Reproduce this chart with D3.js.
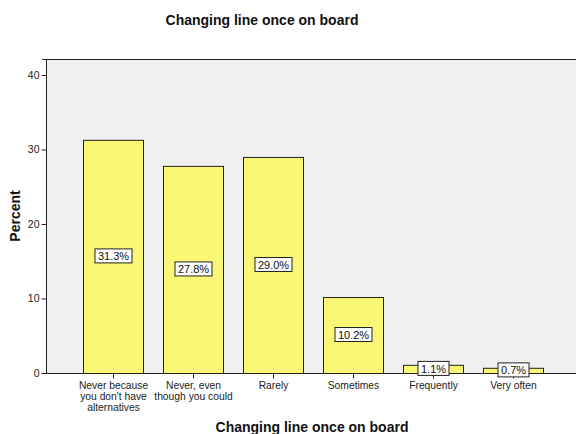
<!DOCTYPE html>
<html><head><meta charset="utf-8">
<script src="https://cdn.jsdelivr.net/npm/d3@7"></script>
<style>body{margin:0;background:#fff}svg{display:block;font-family:"Liberation Sans",Arial,sans-serif}</style>
</head><body><svg id="c" width="576" height="434"></svg>
<script>
const categories = [
  ["Never because","you don't have","alternatives"],
  ["Never, even","though you could"],
  ["Rarely"],
  ["Sometimes"],
  ["Frequently"],
  ["Very often"]
];
const values = [31.3, 27.8, 29.0, 10.2, 1.1, 0.7];
const yTicks = [0, 10, 20, 30, 40];
const title = "Changing line once on board";
const xTitle = "Changing line once on board";
const yTitle = "Percent";

const svg = d3.select("#c");
const L = 46, R = 576, T = 59, B = 373;
const x = d3.scaleBand().domain(d3.range(values.length)).range([73, 553]).paddingInner(0.25).paddingOuter(0.125);
const y = d3.scaleLinear().domain([0, 40]).range([B, 75]);

svg.append("rect").attr("x", L).attr("y", T).attr("width", R - L).attr("height", B - T).attr("fill", "#f0f0f0");
svg.append("line").attr("x1", 42).attr("x2", R).attr("y1", T + 0.5).attr("y2", T + 0.5).attr("stroke", "#222");

svg.append("g").selectAll("rect").data(values).join("rect")
  .attr("x", (d, i) => x(i) + 0.5).attr("y", d => y(d) + 0.5)
  .attr("width", x.bandwidth()).attr("height", d => B - y(d))
  .attr("fill", "#fbf776").attr("stroke", "#222").attr("stroke-width", 1);

// Axes
const yAxis = d3.axisLeft(y).tickValues(yTicks).tickSize(5).tickPadding(2).tickFormat(d3.format("d"));
const gy = svg.append("g").attr("transform", `translate(${L + 0.5},0)`).call(yAxis);
gy.select(".domain").attr("d", `M0,${T}V${B}`).attr("stroke", "#222");
gy.selectAll(".tick line").attr("stroke", "#222");
gy.selectAll(".tick text").attr("font-size", 10.5).attr("fill", "#222").attr("font-family", "Liberation Sans, Arial, sans-serif");

const xAxis = d3.axisBottom(x).tickSize(5).tickFormat("");
const gx = svg.append("g").attr("transform", `translate(0,${B + 0.5})`).call(xAxis);
gx.select(".domain").attr("d", `M${L},0H${R}`).attr("stroke", "#222");
gx.selectAll(".tick line").attr("stroke", "#222").attr("transform", "translate(0.5,0)");

const xl = svg.append("g").selectAll("text").data(categories).join("text")
  .attr("text-anchor", "middle").attr("font-size", 10.3).attr("fill", "#222")
  .attr("transform", (d, i) => `translate(${x(i) + x.bandwidth() / 2 + 0.5},${B + 16})`);
xl.selectAll("tspan").data(d => d).join("tspan").attr("x", 0).attr("dy", (d, j) => j === 0 ? 0 : 11).text(d => d);

// Value labels
const lab = svg.append("g").selectAll("g").data(values).join("g")
  .attr("transform", (d, i) => `translate(${x(i) + x.bandwidth() / 2 + 0.5},${y(d / 2)})`);
lab.append("text").attr("text-anchor", "middle").attr("dy", "0.36em").attr("font-size", 11).attr("fill", "#111")
  .text(d => d.toFixed(1) + "%");
lab.each(function () {
  const g = d3.select(this);
  const bb = g.select("text").node().getBBox();
  g.insert("rect", "text").attr("x", Math.round(bb.x - 3) + 0.5).attr("y", Math.round(bb.y - 1.5) + 0.5)
    .attr("width", Math.round(bb.width + 6)).attr("height", Math.round(bb.height + 2))
    .attr("fill", "#fff").attr("stroke", "#222");
});

svg.append("text").attr("x", 262).attr("y", 25).attr("text-anchor", "middle").attr("font-size", 14)
  .attr("font-weight", "bold").attr("fill", "#111").text(title);
svg.append("text").attr("x", 312).attr("y", 432).attr("text-anchor", "middle").attr("font-size", 14)
  .attr("font-weight", "bold").attr("fill", "#111").text(xTitle);
svg.append("text").attr("transform", "translate(20,216) rotate(-90)").attr("text-anchor", "middle").attr("font-size", 14)
  .attr("font-weight", "bold").attr("fill", "#111").text(yTitle);
</script></body></html>
